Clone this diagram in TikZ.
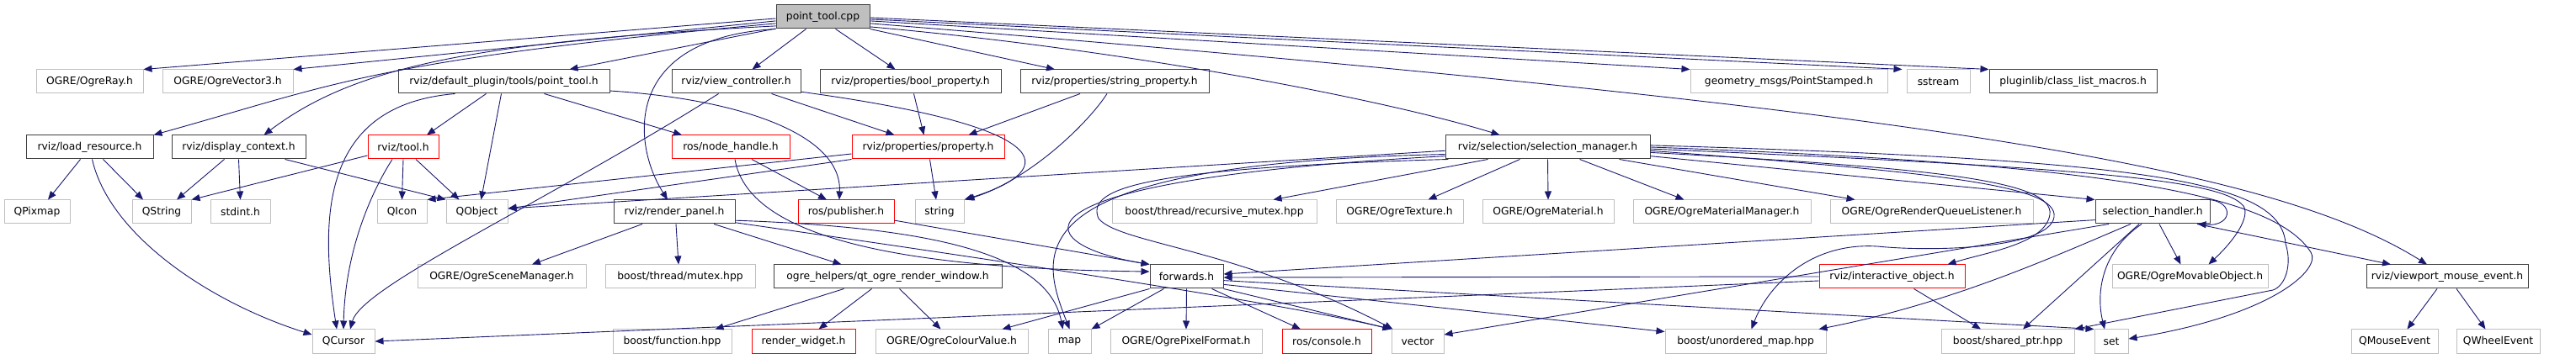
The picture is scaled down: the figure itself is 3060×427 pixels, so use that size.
\documentclass[tikz,border=0pt]{standalone}
\usepackage{fontspec}
\setmainfont{DejaVu Sans}
\usetikzlibrary{arrows.meta,calc}
\definecolor{edgeblue}{HTML}{191970}
\definecolor{graybd}{HTML}{BFBFBF}
\begin{document}
\begin{tikzpicture}[x=1pt,y=-1pt,
  box/.style={rectangle, minimum height=28pt, inner sep=0pt, line width=1pt, font=\fontsize{12.3}{14}\selectfont, fill=white},
  nb/.style={box, draw=black!75},
  ng/.style={box, draw=graybd},
  nr/.style={box, draw=red},
  rootbox/.style={box, draw=black!75, fill=graybd},
  dep/.style={draw=edgeblue, line width=0.9pt, -{Triangle[length=10pt,width=8pt]}},
]
\fill[white] (0,0) rectangle (3060,427);
\useasboundingbox (0,0) rectangle (3060,427);

% row 0
\node[rootbox, minimum width=111pt] (ptc) at (977.5,20) {point\_tool.cpp};
% row 1
\node[ng, minimum width=127pt] (ogreray) at (106.5,97) {OGRE/OgreRay.h};
\node[ng, minimum width=155pt] (ogrevec3) at (270.5,97) {OGRE/OgreVector3.h};
\node[nb, minimum width=251pt] (pth) at (598.5,97) {rviz/default\_plugin/tools/point\_tool.h};
\node[nb, minimum width=153pt] (viewctrl) at (874.5,97) {rviz/view\_controller.h};
\node[nb, minimum width=215pt] (boolprop) at (1081.5,97) {rviz/properties/bool\_property.h};
\node[nb, minimum width=224pt] (strprop) at (1324,97) {rviz/properties/string\_property.h};
\node[ng, minimum width=234pt] (pointstamped) at (2125,97) {geometry\_msgs/PointStamped.h};
\node[ng, minimum width=75pt] (sstream) at (2302.5,97) {sstream};
\node[nb, minimum width=199pt] (classlist) at (2462.5,97) {pluginlib/class\_list\_macros.h};
% row 2
\node[nb, minimum width=151pt] (loadres) at (106.5,175) {rviz/load\_resource.h};
\node[nb, minimum width=159pt] (dispctx) at (283.5,175) {rviz/display\_context.h};
\node[nr, minimum width=84pt] (toolh) at (479,175) {rviz/tool.h};
\node[nr, minimum width=140pt] (nodehandle) at (868,175) {ros/node\_handle.h};
\node[nr, minimum width=181pt] (property) at (1102.5,175) {rviz/properties/property.h};
\node[nb, minimum width=243pt] (selmgr) at (1838.5,175) {rviz/selection/selection\_manager.h};
% row 3
\node[ng, minimum width=78pt] (qpixmap) at (44,252) {QPixmap};
\node[ng, minimum width=70pt] (qstring) at (192,252) {QString};
\node[ng, minimum width=71pt] (stdint) at (285.5,252) {stdint.h};
\node[ng, minimum width=59pt] (qicon) at (477.5,252) {QIcon};
\node[ng, minimum width=73pt] (qobject) at (566.5,252) {QObject};
\node[nb, minimum width=144pt] (renderpanel) at (801,252) {rviz/render\_panel.h};
\node[nr, minimum width=114pt] (publisher) at (1005,252) {ros/publisher.h};
\node[ng, minimum width=58pt] (string) at (1116,252) {string};
\node[ng, minimum width=243pt] (recmutex) at (1442.5,252) {boost/thread/recursive\_mutex.hpp};
\node[ng, minimum width=151pt] (ogretexture) at (1662.5,252) {OGRE/OgreTexture.h};
\node[ng, minimum width=156pt] (ogrematerial) at (1839,252) {OGRE/OgreMaterial.h};
\node[ng, minimum width=211pt] (ogrematmgr) at (2045.5,252) {OGRE/OgreMaterialManager.h};
\node[ng, minimum width=241pt] (renderqueue) at (2294.5,252) {OGRE/OgreRenderQueueListener.h};
\node[nb, minimum width=136pt] (selhandler) at (2557,252) {selection\_handler.h};
% row 4
\node[ng, minimum width=200pt] (ogrescenemgr) at (596,329) {OGRE/OgreSceneManager.h};
\node[ng, minimum width=178pt] (mutex) at (808,329) {boost/thread/mutex.hpp};
\node[nb, minimum width=271pt] (qtogre) at (1054.5,329) {ogre\_helpers/qt\_ogre\_render\_window.h};
\node[nb, minimum width=87pt] (forwards) at (1409.5,329) {forwards.h};
\node[nr, minimum width=173pt] (interactive) at (2247.5,329) {rviz/interactive\_object.h};
\node[ng, minimum width=185pt] (movable) at (2601.5,329) {OGRE/OgreMovableObject.h};
\node[nb, minimum width=192pt] (vpmouse) at (2907,329) {rviz/viewport\_mouse\_event.h};
% row 5
\node[ng, minimum width=74pt] (qcursor) at (408,406) {QCursor};
\node[ng, minimum width=141pt] (boostfunction) at (798.5,406) {boost/function.hpp};
\node[nr, minimum width=123pt] (renderwidget) at (954.5,406) {render\_widget.h};
\node[ng, minimum width=181pt] (colourvalue) at (1130.5,406) {OGRE/OgreColourValue.h};
\node[ng, minimum width=51pt] (map) at (1270.5,406) {map};
\node[ng, minimum width=180pt] (pixelformat) at (1409,406) {OGRE/OgrePixelFormat.h};
\node[nr, minimum width=106pt] (console) at (1576,406) {ros/console.h};
\node[ng, minimum width=62pt] (vector) at (1684,406) {vector};
\node[ng, minimum width=191pt] (unorderedmap) at (2073.5,406) {boost/unordered\_map.hpp};
\node[ng, minimum width=158pt] (sharedptr) at (2385,406) {boost/shared\_ptr.hpp};
\node[ng, minimum width=40pt] (set) at (2508,406) {set};
\node[ng, minimum width=103pt] (qmouse) at (2844.5,406) {QMouseEvent};
\node[ng, minimum width=99pt] (qwheel) at (2967.5,406) {QWheelEvent};

% ---- edges from point_tool.cpp
\draw[dep] (ptc.182) -- (ogreray.north east);
\draw[dep] (ptc.185) -- (ogrevec3.north east);
\draw[dep] (ptc.188) .. controls (440,72) and (400,100) .. (loadres.north east);
\draw[dep] (ptc.191) .. controls (560,50) and (420,80) .. ([xshift=30pt]dispctx.north);
\draw[dep] (ptc.194) -- ([xshift=78pt]pth.north);
\draw[dep] (ptc.south west) .. controls (740,45) and (750,170) .. ([xshift=-8pt]renderpanel.north);
\draw[dep] ([xshift=-20pt]ptc.south) -- ([xshift=19pt]viewctrl.north);
\draw[dep] ([xshift=15pt]ptc.south) -- ([xshift=-18pt]boolprop.north);
\draw[dep] (ptc.south east) -- ([xshift=-71pt]strprop.north);
\draw[dep] (ptc.-12) .. controls (1350,60) and (1650,120) .. ([xshift=-57pt]selmgr.north);
\draw[dep] (ptc.-1) -- (classlist.north west);
\draw[dep] (ptc.-3) -- ([xshift=-5pt]sstream.north west);
\draw[dep] (ptc.-5) -- (pointstamped.north west);
\draw[dep] (ptc.-8) .. controls (2300,130) and (2700,200) .. ([xshift=-24pt]vpmouse.north);

% ---- point_tool.h
\draw[dep] ([xshift=-21pt]pth.south) -- ([xshift=28pt]toolh.north);
\draw[dep] ([xshift=-3pt]pth.south) -- ([xshift=5pt]qobject.north);
\draw[dep] ([xshift=48pt]pth.south) -- ([xshift=-58pt]nodehandle.north);
\draw[dep] (pth.-5) .. controls (880,118) and (1000,160) .. ([xshift=-8pt]publisher.north);
\draw[dep] ([xshift=-58pt]pth.south) .. controls (380,125) and (380,260) .. ([xshift=-8pt]qcursor.north);

% ---- load_resource.h
\draw[dep] ([xshift=-11pt]loadres.south) -- ([xshift=13pt]qpixmap.north);
\draw[dep] ([xshift=16pt]loadres.south) -- ([xshift=-22pt]qstring.north);
\draw[dep] ([xshift=3pt]loadres.south) .. controls (130,280) and (250,360) .. ([yshift=8pt]qcursor.west);

% ---- display_context.h
\draw[dep] ([xshift=-17pt]dispctx.south) -- ([xshift=18pt]qstring.north);
\draw[dep] (dispctx.south) -- (stdint.north);
\draw[dep] ([xshift=55pt]dispctx.south) -- (qobject.north west);

% ---- tool.h
\draw[dep] ([yshift=-10pt]toolh.west) -- (qstring.north east);
\draw[dep] ([xshift=-13pt]toolh.south) .. controls (440,230) and (410,300) .. (qcursor.north);
\draw[dep] (toolh.south) -- (qicon.north);
\draw[dep] ([xshift=15pt]toolh.south) -- ([xshift=-21pt]qobject.north);

% ---- view_controller.h
\draw[dep] ([xshift=-21pt]viewctrl.south) .. controls (650,240) and (430,340) .. ([xshift=8pt]qcursor.north);
\draw[dep] ([xshift=42pt]viewctrl.south) -- ([xshift=-40pt]property.north);
\draw[dep] (viewctrl.-9) .. controls (1250,150) and (1265,200) .. (string.north east);

% ---- properties
\draw[dep] ([xshift=4pt]boolprop.south) -- ([xshift=-5pt]property.north);
\draw[dep] ([xshift=-41pt]strprop.south) -- ([xshift=48pt]property.north);
\draw[dep] ([xshift=-9pt]strprop.south) .. controls (1290,150) and (1220,215) .. ([xshift=2pt]string.north east);
\draw[dep] ([xshift=2pt]property.south) -- ([xshift=-4pt]string.north);
\draw[dep] (property.south west) -- ([yshift=4pt]qobject.east);
\draw[dep] ([yshift=-8pt]property.west) -- (qicon.north east);

% ---- ros
\draw[dep] ([xshift=25pt]nodehandle.south) -- ([xshift=-23pt]publisher.north);
\draw[dep] ([xshift=5pt]nodehandle.south) .. controls (890,290) and (1100,320) .. ([yshift=6pt]forwards.west);
\draw[dep] (publisher.-10) -- (forwards.north west);

% ---- render_panel.h
\draw[dep] ([xshift=-38pt]renderpanel.south) -- ([xshift=36pt]ogrescenemgr.north);
\draw[dep] ([xshift=2pt]renderpanel.south) -- ([xshift=-2pt]mutex.north);
\draw[dep] ([xshift=47pt]renderpanel.south) -- ([xshift=-55pt]qtogre.north);
\draw[dep] (renderpanel.-8) .. controls (1100,270) and (1245,300) .. ([xshift=-8pt]map.north);
\draw[dep] (renderpanel.-10) .. controls (1050,290) and (1500,355) .. (vector.north west);

% ---- qt_ogre_render_window.h
\draw[dep] ([xshift=-52pt]qtogre.south) -- ([xshift=51pt]boostfunction.north);
\draw[dep] ([xshift=-19pt]qtogre.south) -- ([xshift=18pt]renderwidget.north);
\draw[dep] ([xshift=14pt]qtogre.south) -- ([xshift=-13pt]colourvalue.north);

% ---- forwards.h
\draw[dep] (forwards.south west) -- ([xshift=60pt]colourvalue.north);
\draw[dep] ([xshift=-27pt]forwards.south) -- (map.north east);
\draw[dep] (forwards.south) -- (pixelformat.north);
\draw[dep] ([xshift=30pt]forwards.south) -- ([xshift=-31pt]console.north);
\draw[dep] (forwards.south east) -- (vector.north west);
\draw[dep] (forwards.-12) -- ([yshift=-3pt]unorderedmap.north west);
\draw[dep] (forwards.-6) -- (set.north west);

% ---- selection_manager.h
\draw[dep] (selmgr.182) -- ([yshift=4pt]qobject.east);
\draw[dep] (selmgr.184) .. controls (1200,195) and (1235,300) .. (map.north);
\draw[dep] (selmgr.185) .. controls (1180,215) and (1220,290) .. (forwards.north west);
\draw[dep] (selmgr.187) .. controls (1350,200) and (1290,225) .. (1305,260) .. controls (1330,290) and (1470,295) .. ([xshift=2pt]vector.north west);
\draw[dep] ([xshift=-71pt]selmgr.south) -- ([xshift=70pt]recmutex.north);
\draw[dep] ([xshift=-33pt]selmgr.south) -- ([xshift=34pt]ogretexture.north);
\draw[dep] (selmgr.south) -- (ogrematerial.north);
\draw[dep] ([xshift=38pt]selmgr.south) -- ([xshift=-45pt]ogrematmgr.north);
\draw[dep] ([xshift=85pt]selmgr.south) -- ([xshift=-91pt]renderqueue.north);
\draw[dep] (selmgr.-5) -- (selhandler.north west);
\draw[dep] (selmgr.-1) .. controls (2500,200) and (2640,215) .. (2665,245) .. controls (2673,258) and (2655,285) .. ([xshift=22pt]movable.north);
\draw[dep] (selmgr.0) .. controls (2500,195) and (2700,230) .. (2745,300) .. controls (2758,320) and (2700,375) .. ([yshift=3pt]set.east);
\draw[dep] (selmgr.1) .. controls (2550,190) and (2710,215) .. (2715,290) .. controls (2723,314) and (2715,340) .. (2700,345) -- (sharedptr.north east);
\draw[dep] (selmgr.-3) .. controls (2300,200) and (2440,215) .. (2435,255) .. controls (2430,290) and (2360,300) .. ([xshift=66pt]interactive.north);
\draw[dep] (selmgr.-2) .. controls (2300,205) and (2445,220) .. (2440,258) .. controls (2435,295) and (2300,300) .. (2230,293) .. controls (2150,288) and (2100,340) .. ([xshift=7pt]unorderedmap.north);

% ---- selection_handler.h
\draw[dep] (selhandler.188) -- ([yshift=3pt]forwards.east);
\draw[dep] ([xshift=-52pt]selhandler.south) -- ([yshift=8pt]vector.east);
\draw[dep] ([xshift=-26pt]selhandler.south) .. controls (2440,305) and (2320,360) .. ([xshift=-9pt]unorderedmap.north east);
\draw[dep] ([xshift=-16pt]selhandler.south) -- ([xshift=18pt]sharedptr.north);
\draw[dep] ([xshift=-13pt]selhandler.south) .. controls (2495,300) and (2490,350) .. ([xshift=-8pt]set.north);
\draw[dep] ([xshift=8pt]selhandler.south) -- ([xshift=-11pt]movable.north);
\draw[dep] ([xshift=53pt]selhandler.south) -- ([xshift=-67pt]vpmouse.north);
\draw[dep] ([xshift=-12pt]selhandler.north east) .. controls (2655,234) and (2655,270) .. ([xshift=-15pt]selhandler.south east);

% ---- interactive_object.h
\draw[dep] ([xshift=26pt]interactive.south) -- ([xshift=-32pt]sharedptr.north);
\draw[dep] (interactive.west) -- ([yshift=-1pt]forwards.east);
\draw[dep] ([yshift=-5pt]interactive.west) -- (qcursor.east);

% ---- viewport_mouse_event.h
\draw[dep] ([xshift=-12pt]vpmouse.south) -- ([xshift=15pt]qmouse.north);
\draw[dep] ([xshift=11pt]vpmouse.south) -- ([xshift=-15pt]qwheel.north);
\end{tikzpicture}
\end{document}
